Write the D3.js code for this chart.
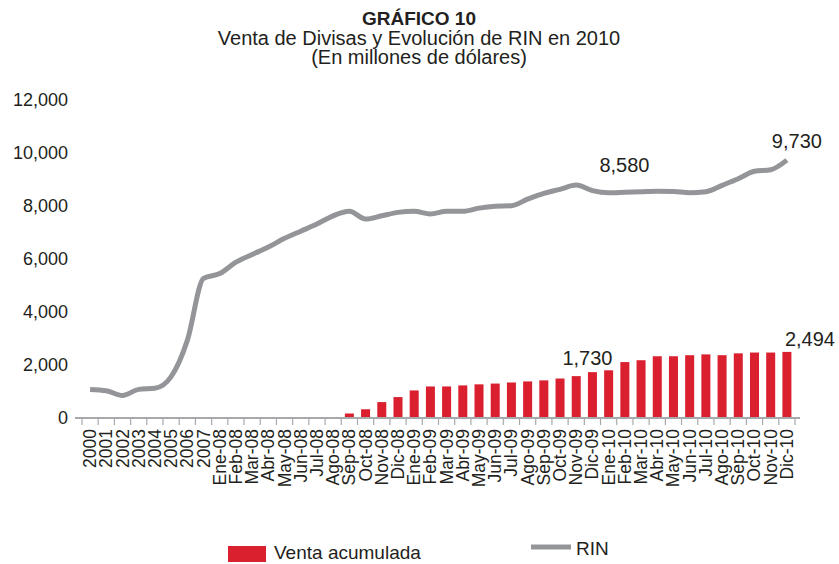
<!DOCTYPE html>
<html>
<head>
<meta charset="utf-8">
<script src="https://cdn.jsdelivr.net/npm/d3@7"></script>
<style>
  body { margin: 0; background: #fff; }
  svg { font-family: "Liberation Sans", Arial, sans-serif; }
</style>
</head>
<body>
<svg id="chart" width="839" height="564"></svg>
<script>
// categories on the x axis
const categories = ['2000', '2001', '2002', '2003', '2004', '2005', '2006', '2007',
  'Ene-08', 'Feb-08', 'Mar-08', 'Abr-08', 'May-08', 'Jun-08', 'Jul-08', 'Ago-08', 'Sep-08', 'Oct-08', 'Nov-08', 'Dic-08',
  'Ene-09', 'Feb-09', 'Mar-09', 'Abr-09', 'May-09', 'Jun-09', 'Jul-09', 'Ago-09', 'Sep-09', 'Oct-09', 'Nov-09', 'Dic-09',
  'Ene-10', 'Feb-10', 'Mar-10', 'Abr-10', 'May-10', 'Jun-10', 'Jul-10', 'Ago-10', 'Sep-10', 'Oct-10', 'Nov-10', 'Dic-10'];

// RIN (millones de dolares), one per category
const rin = [1080, 1030, 850, 1080, 1120, 1560, 2930, 5270,
  5450, 5880, 6170, 6450, 6780, 7050, 7320, 7630, 7800, 7510, 7630, 7760,
  7800, 7700, 7800, 7800, 7920, 7990, 8010, 8260, 8480, 8630, 8790, 8580,
  8500, 8520, 8540, 8560, 8550, 8500, 8540, 8780, 9030, 9310, 9370, 9730];

// Venta acumulada, starts at Sep-08
const ventaStart = 'Sep-08';
const venta = [170, 330, 600, 790,
  1040, 1190, 1190, 1230, 1270, 1300, 1340, 1380, 1420, 1490, 1580, 1730,
  1800, 2110, 2180, 2330, 2330, 2370, 2400, 2370, 2440, 2470, 2470, 2494];

const yTicks = [0, 2000, 4000, 6000, 8000, 10000, 12000];

// labelled points
const labels = [
  { series: 'rin', cat: 'Dic-09', dx: 32, dy: -19, anchor: 'middle' },
  { series: 'rin', cat: 'Dic-10', dx: 10, dy: -12, anchor: 'middle' },
  { series: 'venta', cat: 'Dic-09', dx: -5, dy: -7, anchor: 'middle' },
  { series: 'venta', cat: 'Dic-10', dx: -2, dy: -6, anchor: 'start' }
];

const red = '#da1f2e';
const grey = '#939598';
const axisGrey = '#a7a9ac';
const textCol = '#231f20';

const svg = d3.select('#chart');

const startIdx = categories.indexOf(ventaStart);
const ventaData = venta.map((v, i) => ({ cat: categories[startIdx + i], value: v }));
const rinData = rin.map((v, i) => ({ cat: categories[i], value: v }));

const x = d3.scaleBand()
  .domain(categories)
  .range([82, 795]);

const y = d3.scaleLinear()
  .domain([0, 12000])
  .range([418, 100]);

const cx = c => x(c) + x.bandwidth() / 2;

// Title
const title = svg.append('g').attr('text-anchor', 'middle').attr('fill', textCol);
title.append('text').attr('x', 419).attr('y', 25)
  .style('font-size', '19px').style('font-weight', 'bold').text('GRÁFICO 10');
title.append('text').attr('x', 419).attr('y', 45)
  .style('font-size', '20px').text('Venta de Divisas y Evolución de RIN en 2010');
title.append('text').attr('x', 419).attr('y', 64)
  .style('font-size', '20px').text('(En millones de dólares)');

// Y axis (labels only)
const yAxis = svg.append('g')
  .attr('transform', 'translate(70,0)')
  .call(d3.axisLeft(y).tickValues(yTicks).tickSize(0).tickPadding(2).tickFormat(d3.format(',')));
yAxis.select('.domain').remove();
yAxis.selectAll('text')
  .attr('fill', textCol)
  .style('font-size', '18px')
  .style('font-family', '"Liberation Sans", Arial, sans-serif');

// Bars
svg.append('g')
  .selectAll('rect')
  .data(ventaData)
  .join('rect')
  .attr('x', d => cx(d.cat) - 4.5)
  .attr('width', 9)
  .attr('y', d => y(d.value))
  .attr('height', d => y(0) - y(d.value))
  .attr('fill', red);

// X axis line and ticks
const xAxis = svg.append('g');
xAxis.append('line')
  .attr('x1', 75).attr('x2', 800)
  .attr('y1', y(0)).attr('y2', y(0))
  .attr('stroke', axisGrey).attr('stroke-width', 2);
const bounds = categories.map(c => x(c)).concat([x.range()[1]]);
xAxis.selectAll('.tick')
  .data(bounds)
  .join('line')
  .attr('x1', d => d).attr('x2', d => d)
  .attr('y1', y(0)).attr('y2', y(0) + 7)
  .attr('stroke', axisGrey).attr('stroke-width', 1.2);
xAxis.selectAll('.lbl')
  .data(categories)
  .join('text')
  .attr('transform', d => `translate(${cx(d) + 6},429) rotate(-90)`)
  .attr('text-anchor', 'end')
  .attr('fill', textCol)
  .style('font-size', '17.5px')
  .text(d => d);

// RIN line
const line = d3.line()
  .x(d => cx(d.cat))
  .y(d => y(d.value))
  .curve(d3.curveMonotoneX);
svg.append('path')
  .datum(rinData)
  .attr('d', line)
  .attr('fill', 'none')
  .attr('stroke', grey)
  .attr('stroke-width', 5)
  .attr('stroke-linejoin', 'round');

// Data labels
labels.forEach(l => {
  const arr = l.series === 'rin' ? rinData : ventaData;
  const d = arr.find(p => p.cat === l.cat);
  svg.append('text')
    .attr('x', cx(d.cat) + l.dx)
    .attr('y', y(d.value) + l.dy)
    .attr('text-anchor', l.anchor)
    .attr('fill', textCol)
    .style('font-size', '20px')
    .text(d3.format(',')(d.value));
});

// Legend
const legend = svg.append('g').attr('fill', textCol).style('font-size', '19px');
legend.append('rect').attr('x', 228).attr('y', 546).attr('width', 38).attr('height', 16).attr('fill', red);
legend.append('text').attr('x', 274).attr('y', 559).text('Venta acumulada');
legend.append('line').attr('x1', 531).attr('x2', 571).attr('y1', 547).attr('y2', 547)
  .attr('stroke', grey).attr('stroke-width', 5);
legend.append('text').attr('x', 576).attr('y', 555).text('RIN');
</script>
</body>
</html>
